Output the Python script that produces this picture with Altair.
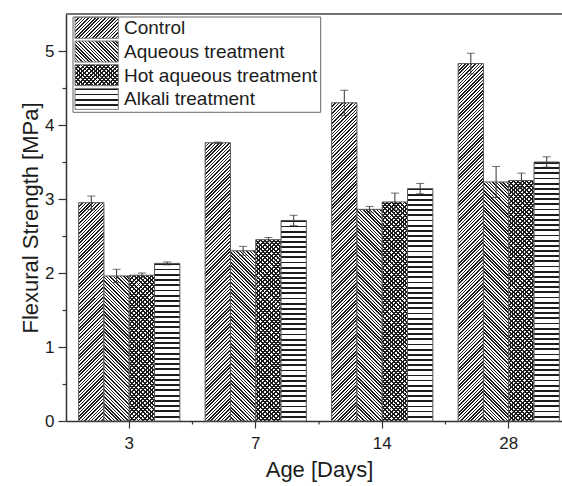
import altair as alt
import pandas as pd

# ---- data -------------------------------------------------------------
ages = ["3", "7", "14", "28"]
series = ["Control", "Aqueous treatment", "Hot aqueous treatment", "Alkali treatment"]

control = [2.95, 3.76, 4.30, 4.83]
control_err = [0.09, 0.01, 0.17, 0.14]
aqueous = [1.96, 2.30, 2.86, 3.23]
aqueous_err = [0.09, 0.06, 0.04, 0.21]
hot_aqueous = [1.97, 2.45, 2.96, 3.25]
hot_aqueous_err = [0.03, 0.03, 0.12, 0.10]
alkali = [2.13, 2.71, 3.14, 3.50]
alkali_err = [0.02, 0.07, 0.07, 0.07]

y_ticks = [0, 0.5, 1, 1.5, 2, 2.5, 3, 3.5, 4, 4.5, 5]
minor_x = ages[1:]

rows = []
for s, vals, errs in zip(series,
                         [control, aqueous, hot_aqueous, alkali],
                         [control_err, aqueous_err, hot_aqueous_err, alkali_err]):
    for a, v, e in zip(ages, vals, errs):
        rows.append({"age": a, "series": s, "value": v, "err": e,
                     "lo": v - e, "hi": v + e})
df = pd.DataFrame(rows)

# ---- layout -----------------------------------------------------------
FONT = "Liberation Sans, Arial, sans-serif"
INK = "#1c1c1c"
W, H = 496, 407          # visible plot area
X_RANGE = 506            # the category axis runs past the right edge
Y_MAX = 5.5
PAD_IN, PAD_OUT = 0.2, 0.1
STEP = X_RANGE / (len(ages) - PAD_IN + 2 * PAD_OUT)
BAR_W = STEP * (1 - PAD_IN) / len(series)
PX_PER_UNIT = H / Y_MAX

# hatch definitions: (direction, spacing in px, dark fraction)
HATCH = {
    "Control": [("/", 3.4, 0.45)],
    "Aqueous treatment": [("\\", 3.4, 0.45)],
    "Hot aqueous treatment": [("/", 4.4, 0.45), ("\\", 4.4, 0.45)],
    "Alkali treatment": [("h", 5.2, 0.35)],
}


def hatch_fill(kind, w, h, spacing, frac, light):
    """Striped linear gradient that keeps 45-degree lines on a w x h box."""
    if kind == "h":
        n = max(1, round(h / spacing))
        x1, y1, x2, y2 = 0, 0, 0, 1
    else:
        s = (w + h) / (w * w + h * h)
        n = max(1, round((w + h) / spacing))
        if kind == "/":
            x1, y1, x2, y2 = 0, 0, s * w, s * h
        else:
            x1, y1, x2, y2 = 0, 1, s * w, 1 - s * h
    stops = []
    for k in range(n):
        a, b, c = k / n, (k + frac) / n, (k + 1) / n
        stops += [(a, INK), (b, INK), (b, light), (c, light)]
    return alt.LinearGradient(
        gradient="linear",
        stops=[alt.GradientStop(offset=round(o, 5), color=col) for o, col in stops],
        x1=round(x1, 5), y1=round(y1, 5), x2=round(x2, 5), y2=round(y2, 5),
    )


# ---- shared encodings -------------------------------------------------
x_scale = alt.Scale(domain=ages, range=[0, X_RANGE],
                    paddingInner=PAD_IN, paddingOuter=PAD_OUT)
x_axis = alt.Axis(
    title="Age [Days]", labelAngle=0, grid=False,
    domainColor="#333", domainWidth=1.5, tickColor="#333", tickWidth=1.2,
    tickSize=7, labelPadding=7, labelFont=FONT, labelFontSize=17,
    labelColor=INK, titleFont=FONT, titleFontSize=22, titleFontWeight="normal",
    titleColor=INK, titleX=X_RANGE / 2, titleY=55, titleBaseline="alphabetic",
)
y_scale = alt.Scale(domain=[0, Y_MAX], nice=False, zero=True)
y_axis = alt.Axis(
    title="Flexural Strength [MPa]", values=y_ticks, grid=False,
    labelExpr="datum.value % 1 === 0 ? format(datum.value, 'd') : ''",
    tickSize={"condition": {"test": "datum.value % 1 !== 0", "value": 4}, "value": 8},
    domainColor="#333", domainWidth=1.5, tickColor="#333", tickWidth=1.2,
    labelPadding=4, labelFont=FONT, labelFontSize=17, labelColor=INK,
    titleFont=FONT, titleFontSize=22, titleFontWeight="normal", titleColor=INK,
    titleX=-29, titleY=H / 2, titleBaseline="alphabetic", titleAngle=-90,
)
x_off = alt.XOffset("series:N", scale=alt.Scale(domain=series, paddingInner=0, paddingOuter=0))


def X(**kw):
    return alt.X("age:N", scale=x_scale, axis=x_axis, **kw)


def Y(field):
    return alt.Y(f"{field}:Q", scale=y_scale, axis=y_axis)


layers = []

# ---- hatched bars -----------------------------------------------------
for r in rows:
    h = r["value"] * PX_PER_UNIT
    specs = HATCH[r["series"]]
    test = f"datum.age === '{r['age']}' && datum.series === '{r['series']}'"
    for i, (kind, spacing, frac) in enumerate(specs):
        light = "white" if i == 0 else "rgba(255,255,255,0)"
        last = i == len(specs) - 1
        mark = dict(fill=hatch_fill(kind, BAR_W, h, spacing, frac, light))
        if last:
            mark.update(stroke="#555", strokeWidth=1)
        layers.append(
            alt.Chart(df).transform_filter(test).mark_bar(**mark)
            .encode(x=X(), xOffset=x_off, y=Y("value"))
        )

# ---- error bars -------------------------------------------------------
err_base = alt.Chart(df).encode(x=X(), xOffset=x_off)
layers.append(err_base.mark_rule(color="#333", strokeWidth=1)
              .encode(y=Y("lo"), y2="hi:Q"))
layers.append(err_base.mark_tick(color="#333", thickness=1, size=8)
              .encode(y=Y("hi")))
layers.append(err_base.mark_tick(color="#333", thickness=1, size=8)
              .encode(y=Y("lo")))

# ---- minor ticks between age groups ------------------------------------
layers.append(
    alt.Chart(pd.DataFrame({"age": minor_x}))
    .mark_rule(color="#333", strokeWidth=1.2, xOffset=-STEP * PAD_IN / 2)
    .encode(x=X(bandPosition=0), y=alt.value(H), y2=alt.value(H + 3.5))
)

# ---- top frame line ----------------------------------------------------
one = pd.DataFrame({"k": [0]})
layers.append(
    alt.Chart(one).mark_rule(color="#444", strokeWidth=1.5)
    .encode(x=alt.value(0), x2=alt.value(W + 2), y=alt.value(0))
)

# ---- legend --------------------------------------------------------------
LG_X0, LG_X1, LG_Y0, LG_Y1 = 7, 254.7, 3, 98.3
SW_X0, SW_X1, SW_H, SW_PITCH, SW_TOP = 9, 52.3, 21, 23.7, 3.3
layers.append(
    alt.Chart(one).mark_rect(fill="white", stroke="#666", strokeWidth=1)
    .encode(x=alt.value(LG_X0), x2=alt.value(LG_X1),
            y=alt.value(LG_Y0), y2=alt.value(LG_Y1))
)
for j, s in enumerate(series):
    top = SW_TOP + j * SW_PITCH
    specs = HATCH[s]
    for i, (kind, spacing, frac) in enumerate(specs):
        light = "white" if i == 0 else "rgba(255,255,255,0)"
        mark = dict(fill=hatch_fill(kind, SW_X1 - SW_X0, SW_H, spacing, frac, light))
        if i == len(specs) - 1:
            mark.update(stroke="#777", strokeWidth=1)
        layers.append(
            alt.Chart(one).mark_rect(**mark)
            .encode(x=alt.value(SW_X0), x2=alt.value(SW_X1),
                    y=alt.value(top), y2=alt.value(top + SW_H))
        )
    layers.append(
        alt.Chart(pd.DataFrame({"series": [s]}))
        .mark_text(align="left", baseline="middle", font=FONT, fontSize=19, color=INK)
        .encode(text="series:N", x=alt.value(58), y=alt.value(top + SW_H / 2 + 0.5))
    )

chart = (
    alt.layer(*layers)
    .properties(
        width=W, height=H,
        padding={"left": 66, "top": 14, "right": 0, "bottom": 65},
        autosize=alt.AutoSizeParams(type="none"),
    )
    .configure_view(stroke=None)
)

chart.save("out.html", embed_options={"renderer": "svg", "actions": False})
